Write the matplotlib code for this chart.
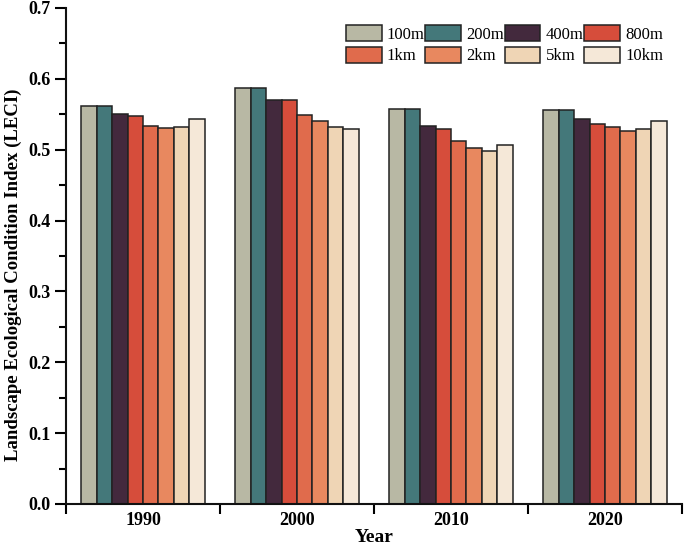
import matplotlib
matplotlib.use("Agg")
import matplotlib.pyplot as plt
import numpy as np
from matplotlib.ticker import MultipleLocator, FixedLocator

years = ["1990", "2000", "2010", "2020"]
scales = ["100m", "200m", "400m", "800m", "1km", "2km", "5km", "10km"]
colors = ["#B8B8A4", "#44787A", "#43293D", "#D64D3B", "#E06B4C", "#E8885F", "#EFD5B5", "#F5E8D8"]
v100m = [0.562, 0.587, 0.557, 0.556]
v200m = [0.562, 0.587, 0.557, 0.556]
v400m = [0.550, 0.570, 0.534, 0.543]
v800m = [0.548, 0.570, 0.529, 0.536]
v1km = [0.534, 0.549, 0.513, 0.532]
v2km = [0.530, 0.540, 0.503, 0.526]
v5km = [0.532, 0.532, 0.498, 0.529]
v10km = [0.543, 0.529, 0.506, 0.541]
series = [v100m, v200m, v400m, v800m, v1km, v2km, v5km, v10km]

plt.rcParams['font.family'] = ['Liberation Serif', 'DejaVu Serif']

fig = plt.figure(figsize=(6.85, 5.46), dpi=100)
ax = fig.add_axes([66/685, 42/546, (682-66)/685, (504-8)/546])

x = np.arange(1, len(years) + 1)
w = 0.1
handles = []
for i, (name, vals, c) in enumerate(zip(scales, series, colors)):
    h = ax.bar(x - 0.35 + i * w, vals, width=w, color=c, edgecolor="#222222",
               linewidth=1.1, label=name, zorder=2)
    handles.append(h)

ax.set_xlim(0.5, 4.5)
ax.set_ylim(0, 0.7)
ax.spines['top'].set_visible(False)
ax.spines['right'].set_visible(False)
for s in ['left', 'bottom']:
    ax.spines[s].set_linewidth(1.5)
    ax.spines[s].set_color("#111111")

ax.set_xticks(x)
ax.set_xticklabels(years, fontweight='bold', fontsize=13)
ax.tick_params(axis='x', which='major', length=0, pad=6)
ax.xaxis.set_minor_locator(FixedLocator([0.5, 1.5, 2.5, 3.5, 4.5]))
ax.tick_params(axis='x', which='minor', length=7, width=1.5, direction='out')

ax.yaxis.set_minor_locator(MultipleLocator(0.05))
ax.set_yticks(np.arange(0, 0.71, 0.1))
ax.set_yticklabels([f"{v:.1f}" for v in np.arange(0, 0.71, 0.1)], fontweight='bold', fontsize=13)
ax.tick_params(axis='y', which='major', length=8, width=1.5, direction='out', pad=3)
ax.tick_params(axis='y', which='minor', length=5, width=1.5, direction='out')

ax.set_xlabel("Year", fontweight='bold', fontsize=14)
ax.xaxis.set_label_coords(0.5, -0.051)
ax.set_ylabel("Landscape Ecological Condition Index (LECI)", fontweight='bold', fontsize=13.5)
ax.yaxis.set_label_coords(-0.071, 0.462)

# legend laid out row by row (4 per row)
order = [0, 4, 1, 5, 2, 6, 3, 7]
ax.legend([handles[i] for i in order], [scales[i] for i in order],
          ncol=4, frameon=False, fontsize=12, loc='upper right',
          bbox_to_anchor=(663/685, 1 - 25/546), bbox_transform=fig.transFigure,
          handlelength=2.15, handleheight=1.08, handletextpad=0.3,
          columnspacing=0.05, labelspacing=0.25, borderpad=0, borderaxespad=0)

fig.savefig("out.png", dpi=100)
